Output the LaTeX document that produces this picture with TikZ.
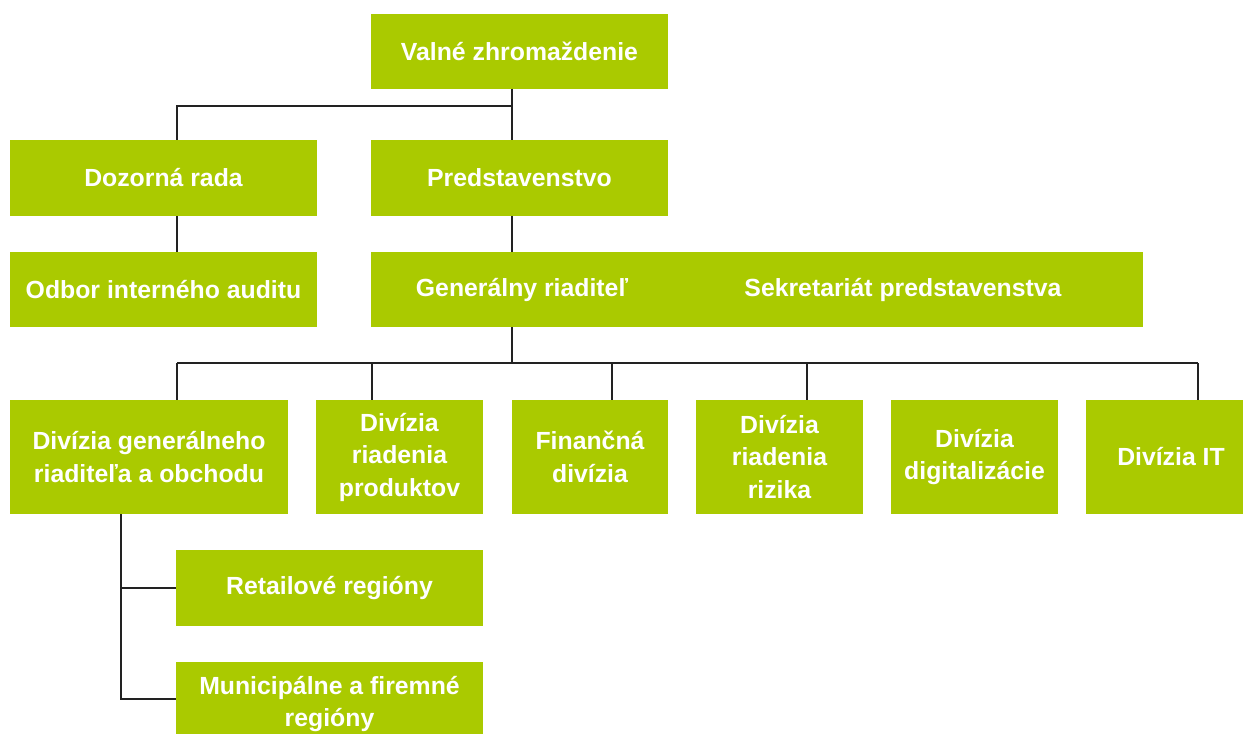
\documentclass[tikz,border=0pt]{standalone}
\usepackage{fontspec}
\setmainfont{Liberation Sans}
\definecolor{boxgreen}{RGB}{170,202,0}
\definecolor{linegray}{RGB}{34,34,34}
\begin{document}
\begin{tikzpicture}[x=1pt,y=-1pt,
  box/.style={fill=boxgreen, draw=none, inner sep=0pt, outer sep=0pt},
  lbl/.style={text=white, font=\bfseries\fontsize{24.8}{32.5}\selectfont, align=center, inner sep=0pt},
  conn/.style={draw=linegray, line width=1.6pt}]
\useasboundingbox (0,0) rectangle (1243,734);
% boxes
\node[box,lbl,minimum width=297pt,minimum height=75pt] (valne) at (519.5,51) {Valné zhromaždenie};
\node[box,lbl,minimum width=307pt,minimum height=76pt] (dozor) at (163.5,178) {Dozorná rada};
\node[box,lbl,minimum width=297pt,minimum height=76pt] (pred) at (519.5,178) {Predstavenstvo};
\node[box,lbl,minimum width=307pt,minimum height=75pt] (odbor) at (163.5,289.5) {Odbor interného auditu};
\node[box,minimum width=772pt,minimum height=75pt] (genbox) at (757,289.5) {};
\node[lbl] (gen) at (522,289.5) {Generálny riaditeľ};
\node[lbl] (sek) at (903,289.5) {Sekretariát predstavenstva};
\node[box,lbl,minimum width=278pt,minimum height=114pt] (d1) at (149,457) {Divízia generálneho\\riaditeľa a obchodu};
\node[box,lbl,minimum width=167pt,minimum height=114pt] (d2) at (399.5,457) {Divízia\\riadenia\\produktov};
\node[box,lbl,minimum width=156pt,minimum height=114pt] (d3) at (590,457) {Finančná\\divízia};
\node[box,lbl,minimum width=167pt,minimum height=114pt] (d4) at (779.5,457) {Divízia\\riadenia\\rizika};
\node[box,lbl,minimum width=167pt,minimum height=114pt] (d5) at (974.5,457) {Divízia\\digitalizácie};
\node[box,lbl,minimum width=170pt,minimum height=114pt] (d6) at (1171,457) {Divízia IT};
\node[box,lbl,minimum width=307pt,minimum height=76pt] (retail) at (329.5,588) {Retailové regióny};
\node[box,minimum width=307pt,minimum height=96pt] (muni) at (329.5,710) {};
\node[lbl] (munit) at (329.5,704) {Municipálne a firemné\\regióny};
% connector points
\coordinate (b1) at (512,106);
\coordinate (k1) at (177,106);
\coordinate (b2) at (512,363);
\coordinate (bL) at (177,363);
\coordinate (t2) at (372,363);
\coordinate (t3) at (612,363);
\coordinate (t4) at (807,363);
\coordinate (bR) at (1198,363);
\coordinate (vr) at (121,588);
\coordinate (vm) at (121,699);
% connectors
\draw[conn] (valne.south -| b1) -- (pred.north -| b1);
\draw[conn] (b1) -- (k1) -- (k1 |- dozor.north);
\draw[conn] (k1 |- dozor.south) -- (k1 |- odbor.north);
\draw[conn] (b1 |- pred.south) -- (b1 |- genbox.north);
\draw[conn] (b1 |- genbox.south) -- (b2);
\draw[conn] (bL) -- (bR);
\draw[conn] (bL) -- (bL |- d1.north);
\draw[conn] (t2) -- (t2 |- d2.north);
\draw[conn] (t3) -- (t3 |- d3.north);
\draw[conn] (t4) -- (t4 |- d4.north);
\draw[conn] (bR) -- (bR |- d6.north);
\draw[conn] (vm |- d1.south) -- (vm) -- (vm -| muni.west);
\draw[conn] (vr) -- (vr -| retail.west);
\end{tikzpicture}
\end{document}
